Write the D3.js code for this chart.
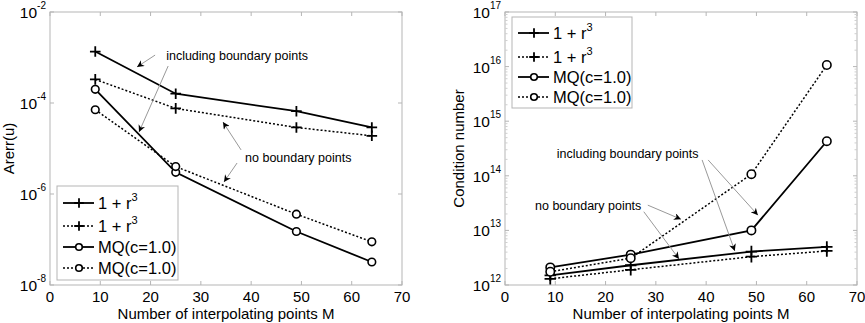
<!DOCTYPE html>
<html>
<head>
	<title>RBF error and condition number</title>
	<style>
		body, html { margin: 0; padding: 0; background: #fff; }
		svg text { font-family: Arial, "Liberation Sans", sans-serif; fill: #000; }
	</style>
</head>
<body>
	<svg id="svg" width="865" height="323"></svg>

	<script src="https://d3js.org/d3.v7.min.js"></script>
	<script>
		// Number of interpolating points (x values shared by all series)
		const M = [9, 25, 49, 64]
		const xTicks = [0, 10, 20, 30, 40, 50, 60, 70]

		// Left panel: Arerr(u)
		const errCubicBnd = [1.35e-3, 1.6e-4, 6.6e-5, 2.9e-5]
		const errCubicNoBnd = [3.3e-4, 7.6e-5, 2.9e-5, 1.9e-5]
		const errMqBnd = [2.0e-4, 3.0e-6, 1.5e-7, 3.2e-8]
		const errMqNoBnd = [7.1e-5, 4.0e-6, 3.6e-7, 8.9e-8]
		const errDecades = [-8, -6, -4, -2]

		// Right panel: condition number
		const condCubicBnd = [1.5e12, 2.3e12, 4.1e12, 5.0e12]
		const condCubicNoBnd = [1.3e12, 1.9e12, 3.3e12, 4.2e12]
		const condMqBnd = [2.1e12, 3.6e12, 1.0e13, 4.3e14]
		const condMqNoBnd = [1.75e12, 3.1e12, 1.07e14, 1.07e16]
		const condDecades = [12, 13, 14, 15, 16, 17]

		// Legend labels
		const legendLabels = ['1 + r', '1 + r', 'MQ(c=1.0)', 'MQ(c=1.0)']
		const legendSup = ['3', '3', '', '']

		// Annotations (data coordinates): [x1, y1, x2, y2]
		const errNotes = [
			{ text: 'including boundary points', x: 23.1, y: 1.13e-3 },
			{ text: 'no boundary points', x: 38.8, y: 6.5e-6 }
		]
		const errArrows = [
			[20.9, 1.13e-3, 17.3, 6.2e-4],
			[23.5, 6.5e-4, 17.7, 2.3e-5],
			[38.0, 9.3e-6, 34.4, 3.8e-5],
			[37.2, 4.8e-6, 34.6, 1.84e-6]
		]
		const condNotes = [
			{ text: 'including boundary points', x: 10.3, y: 2.6e14 },
			{ text: 'no boundary points', x: 5.97, y: 2.9e13 }
		]
		const condArrows = [
			[39.2, 1.95e14, 45.7, 4.2e12],
			[40.4, 1.95e14, 50.3, 1.9e13],
			[28.4, 2.9e13, 35.0, 1.6e13],
			[27.6, 2.2e13, 34.6, 3.0e12]
		]

		const svg = d3.select('#svg')

		// arrow head used by all annotation arrows
		svg.append('defs').append('marker')
			.attr('id', 'head')
			.attr('markerUnits', 'userSpaceOnUse')
			.attr('viewBox', '0 0 10 10')
			.attr('refX', 10).attr('refY', 5)
			.attr('markerWidth', 9).attr('markerHeight', 7)
			.attr('orient', 'auto')
			.append('path')
			.attr('d', 'M0,0 L10,5 L0,10 L3,5 Z')
			.attr('fill', '#000')

		function drawPanel(p) {
			const x = d3.scaleLinear().domain([0, 70]).range([p.left, p.right])
			const y = d3.scaleLog().domain(p.domain).range([p.bottom, p.top])
			const g = svg.append('g')
			const axisColor = '#b5b5b5'

			// axes box
			g.append('rect')
				.attr('x', p.left).attr('y', p.top)
				.attr('width', p.right - p.left).attr('height', p.bottom - p.top)
				.attr('fill', 'none').attr('stroke', axisColor)

			// x ticks (bottom and top, inward)
			xTicks.forEach(t => {
				g.append('line').attr('x1', x(t)).attr('x2', x(t))
					.attr('y1', p.bottom).attr('y2', p.bottom - 4).attr('stroke', axisColor)
				g.append('line').attr('x1', x(t)).attr('x2', x(t))
					.attr('y1', p.top).attr('y2', p.top + 4).attr('stroke', axisColor)
				g.append('text').attr('x', x(t)).attr('y', p.bottom + 16.5)
					.attr('text-anchor', 'middle').style('font-size', '15px').text(t)
			})

			// y minor ticks (log)
			if (p.minor) {
				const lo = Math.log10(p.domain[0]), hi = Math.log10(p.domain[1])
				for (let e = lo; e < hi; e++) {
					for (let k = 2; k <= 9; k++) {
						const yy = y(k * Math.pow(10, e))
						g.append('line').attr('x1', p.left).attr('x2', p.left + 2.5)
							.attr('y1', yy).attr('y2', yy).attr('stroke', '#cfcfcf')
						g.append('line').attr('x1', p.right).attr('x2', p.right - 2.5)
							.attr('y1', yy).attr('y2', yy).attr('stroke', '#cfcfcf')
					}
				}
			}

			// y major ticks with 10^n labels
			p.decades.forEach(e => {
				const yy = y(Math.pow(10, e))
				g.append('line').attr('x1', p.left).attr('x2', p.left + 4)
					.attr('y1', yy).attr('y2', yy).attr('stroke', axisColor)
				g.append('line').attr('x1', p.right).attr('x2', p.right - 4)
					.attr('y1', yy).attr('y2', yy).attr('stroke', axisColor)
				const t = g.append('text').attr('x', p.left - 4).attr('y', yy + 6)
					.attr('text-anchor', 'end').style('font-size', '15.5px')
				t.append('tspan').text('10')
				t.append('tspan').attr('dy', -9).style('font-size', '10px').text(e)
			})

			// axis titles
			g.append('text')
				.attr('x', (p.left + p.right) / 2).attr('y', p.bottom + 34)
				.attr('text-anchor', 'middle').style('font-size', '15px')
				.text('Number of interpolating points M')
			g.append('text')
				.attr('transform', `translate(${p.ylabelX},${(p.top + p.bottom) / 2}) rotate(-90)`)
				.attr('text-anchor', 'middle').style('font-size', '15px')
				.text(p.ylabel)

			// series
			const line = d3.line().x((d, i) => x(M[i])).y(d => y(d))
			p.series.forEach(s => {
				g.append('path').datum(s.values)
					.attr('d', line).attr('fill', 'none').attr('stroke', '#000')
					.attr('stroke-width', s.dotted ? 1.5 : 1.8)
					.attr('stroke-dasharray', s.dotted ? '2,2' : null)
				s.values.forEach((v, i) => drawMarker(g, s.marker, x(M[i]), y(v), p.msize))
			})

			// annotations
			p.notes.forEach(n => {
				g.append('text').attr('x', x(n.x)).attr('y', y(n.y) + 4.5)
					.style('font-size', '12.5px').text(n.text)
			})
			p.arrows.forEach(a => {
				g.append('line')
					.attr('x1', x(a[0])).attr('y1', y(a[1]))
					.attr('x2', x(a[2])).attr('y2', y(a[3]))
					.attr('stroke', '#999').attr('stroke-width', 1)
					.attr('marker-end', 'url(#head)')
			})

			// legend
			const L = p.legend
			const lg = g.append('g')
			lg.append('rect').attr('x', L.x).attr('y', L.y)
				.attr('width', L.w).attr('height', L.h)
				.attr('fill', '#fff').attr('stroke', axisColor)
			L.rows.forEach((ry, i) => {
				const s = p.series[i]
				const yy = L.y + ry
				lg.append('line').attr('x1', L.x + 6).attr('x2', L.x + 37)
					.attr('y1', yy).attr('y2', yy).attr('stroke', '#000')
					.attr('stroke-width', s.dotted ? 1.5 : 1.8)
					.attr('stroke-dasharray', s.dotted ? '2,2' : null)
				drawMarker(lg, s.marker, L.x + 22, yy, 3.3)
				const t = lg.append('text').attr('x', L.x + 41).attr('y', yy + 6)
					.style('font-size', '16.5px')
				t.append('tspan').text(legendLabels[i])
				if (legendSup[i]) t.append('tspan').attr('dy', -8).style('font-size', '11px').text(legendSup[i])
			})
		}

		function drawMarker(g, type, cx, cy, r) {
			if (type === 'plus') {
				g.append('path')
					.attr('d', `M${cx - r - 1.5},${cy}H${cx + r + 1.5}M${cx},${cy - r - 1.5}V${cy + r + 1.5}`)
					.attr('stroke', '#000').attr('stroke-width', 1.8).attr('fill', 'none')
			} else {
				g.append('circle').attr('cx', cx).attr('cy', cy).attr('r', r)
					.attr('fill', '#fff').attr('stroke', '#000').attr('stroke-width', 1.6)
			}
		}

		drawPanel({
			left: 50, right: 402, top: 12, bottom: 285,
			domain: [1e-8, 1e-2], decades: errDecades, minor: false,
			ylabel: 'Arerr(u)', ylabelX: 14, msize: 3.8,
			series: [
				{ values: errCubicBnd, marker: 'plus', dotted: false },
				{ values: errCubicNoBnd, marker: 'plus', dotted: true },
				{ values: errMqBnd, marker: 'circle', dotted: false },
				{ values: errMqNoBnd, marker: 'circle', dotted: true }
			],
			notes: errNotes, arrows: errArrows,
			legend: { x: 57, y: 186, w: 121, h: 94, rows: [17, 40, 61, 82] }
		})

		drawPanel({
			left: 505, right: 857, top: 12, bottom: 285,
			domain: [1e12, 1e17], decades: condDecades, minor: true,
			ylabel: 'Condition number', ylabelX: 464, msize: 4.2,
			series: [
				{ values: condCubicBnd, marker: 'plus', dotted: false },
				{ values: condCubicNoBnd, marker: 'plus', dotted: true },
				{ values: condMqBnd, marker: 'circle', dotted: false },
				{ values: condMqNoBnd, marker: 'circle', dotted: true }
			],
			notes: condNotes, arrows: condArrows,
			legend: { x: 512, y: 17, w: 120, h: 91, rows: [16, 40, 60, 80] }
		})
	</script>
</body>
</html>
